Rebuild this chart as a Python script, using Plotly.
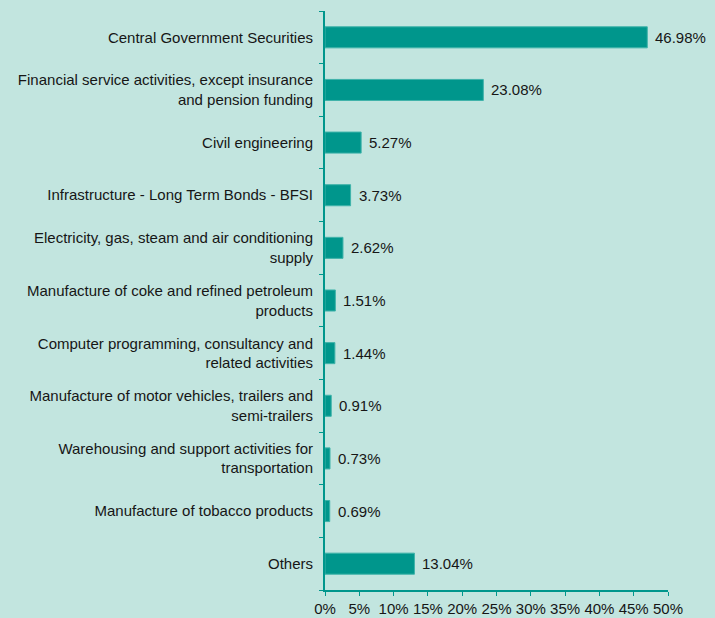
import plotly.graph_objects as go

categories = [
    "Central Government Securities",
    "Financial service activities, except insurance<br>and pension funding",
    "Civil engineering",
    "Infrastructure - Long Term Bonds - BFSI",
    "Electricity, gas, steam and air conditioning<br>supply",
    "Manufacture of coke and refined petroleum<br>products",
    "Computer programming, consultancy and<br>related activities",
    "Manufacture of motor vehicles, trailers and<br>semi-trailers",
    "Warehousing and support activities for<br>transportation",
    "Manufacture of tobacco products",
    "Others",
]
values = [46.98, 23.08, 5.27, 3.73, 2.62, 1.51, 1.44, 0.91, 0.73, 0.69, 13.04]
tick_values = [0, 5, 10, 15, 20, 25, 30, 35, 40, 45, 50]
tick_labels = [f"{v}%" for v in tick_values]

BG = "#c2e5df"
BAR = "#00968c"
TEXT = "#161616"
FONT = "Liberation Sans, Arial, sans-serif"

fig = go.Figure(
    go.Bar(
        y=categories,
        x=values,
        orientation="h",
        marker=dict(color=BAR, line=dict(color="#3fb3aa", width=1)),
        hoverinfo="x+y",
    )
)

# value labels just to the right of each bar end
for cat, val in zip(categories, values):
    fig.add_annotation(
        x=val,
        y=cat,
        text=f"{val:.2f}%",
        showarrow=False,
        xanchor="left",
        yanchor="middle",
        xshift=6,
        font=dict(family=FONT, size=15, color=TEXT),
    )

fig.update_layout(
    width=715,
    height=618,
    margin=dict(l=325, r=47, t=11, b=28),
    paper_bgcolor=BG,
    plot_bgcolor=BG,
    bargap=0.6,
    showlegend=False,
    font=dict(family=FONT, size=15, color=TEXT),
)

fig.update_xaxes(
    range=[0, 50],
    tickvals=tick_values,
    ticktext=tick_labels,
    showgrid=False,
    zeroline=False,
    showline=True,
    linecolor=BAR,
    linewidth=2,
    ticks="outside",
    ticklen=4,
    tickcolor=BAR,
    tickfont=dict(size=15),
    automargin=False,
)

fig.update_yaxes(
    categoryorder="array",
    categoryarray=categories[::-1],
    autorange=False,
    range=[-0.5, len(categories) - 0.5],
    tickson="boundaries",
    showgrid=False,
    showline=True,
    linecolor=BAR,
    linewidth=2,
    ticks="outside",
    ticklen=4,
    tickcolor=BAR,
    tickfont=dict(size=15),
    ticklabelstandoff=7,
    automargin=False,
)

fig.write_html("out.html")
